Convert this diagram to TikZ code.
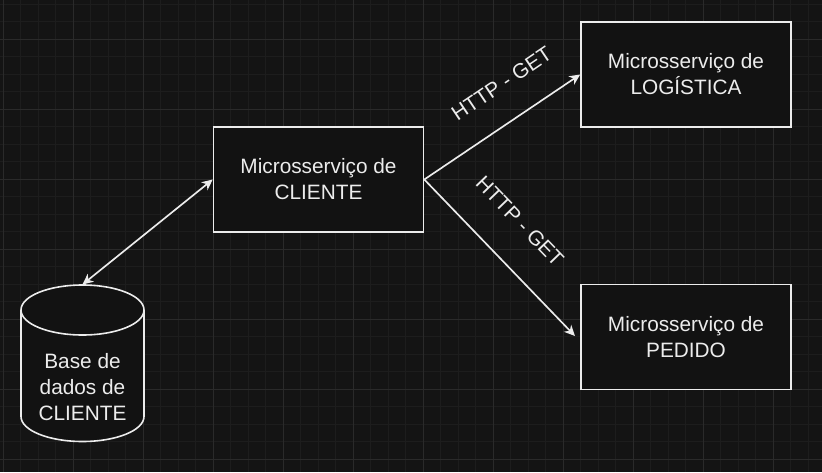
\documentclass[tikz,border=0pt]{standalone}
\usepackage{fontspec}
\setmainfont{Liberation Sans}
\usetikzlibrary{arrows.meta}
\definecolor{bg}{HTML}{141414}
\definecolor{boxfill}{HTML}{121212}
\definecolor{gridminor}{HTML}{1D1D1D}
\definecolor{gridmajor}{HTML}{2A2A2A}
\definecolor{ink}{HTML}{ECECEC}
\tikzset{
  box/.style={draw=ink, fill=boxfill, line width=1.2pt, minimum width=157.5pt, minimum height=78.75pt, inner sep=0pt, align=center, text=ink, font=\fontsize{15.6pt}{19.5pt}\selectfont},
  lbl/.style={text=ink, font=\fontsize{15.6pt}{19.5pt}\selectfont, inner sep=0pt},
  tip/.style={Stealth[length=8pt,width=7.5pt,inset=2.4pt]},
  conn/.style={draw=ink, line width=1.25pt, -{Stealth[length=8pt,width=7.5pt,inset=2.4pt]}},
}
\begin{document}
\begin{tikzpicture}[x=0.75pt,y=-0.75pt]
\fill[bg] (0,0) rectangle (822,472);
\useasboundingbox (0,0) rectangle (822,472);
% grid
\foreach \i in {0,...,47} {
  \draw[gridminor, line width=0.6pt] ({3.3+17.5*\i},0) -- ({3.3+17.5*\i},472);
}
\foreach \j in {0,...,27} {
  \draw[gridminor, line width=0.6pt] (0,{4.3+17.5*\j}) -- (822,{4.3+17.5*\j});
}
\foreach \i in {0,...,11} {
  \draw[gridmajor, line width=0.8pt] ({3.3+70*\i},0) -- ({3.3+70*\i},472);
}
\foreach \j in {0,...,6} {
  \draw[gridmajor, line width=0.8pt] (0,{39.3+70*\j}) -- (822,{39.3+70*\j});
}
% boxes
\node[box] (cli) at (318.5,179.5) {\raisebox{-1.2pt}{\parbox{150pt}{\centering Microsserviço de\\CLIENTE}}};
\node[box] (log) at (686,74.5) {\raisebox{-1.2pt}{\parbox{150pt}{\centering Microsserviço de\\LOGÍSTICA}}};
\node[box] (ped) at (686,337) {\raisebox{-1.2pt}{\parbox{150pt}{\centering Microsserviço de\\PEDIDO}}};
% cylinder
\node[minimum width=92.25pt, minimum height=117.75pt, inner sep=0pt] (db) at (82.5,363.25) {};
\filldraw[draw=ink, fill=boxfill, line width=1.2pt] (21,310) -- (21,416.5) arc[start angle=180, end angle=360, x radius=46.125pt, y radius=18.75pt] -- (144,310);
\filldraw[draw=ink, fill=boxfill, line width=1.2pt] (82.5,310) ellipse [x radius=46.125pt, y radius=18.75pt];
\node[lbl, align=center] (dbtext) at (82.5,387.5) {Base de\\dados de\\CLIENTE};
% connectors
\coordinate (pedtip) at (575,336);
\draw[conn, {Stealth[length=8pt,width=7.5pt,inset=2.4pt]}-{Stealth[length=8pt,width=7.5pt,inset=2.4pt]}] (db.north) -- (cli.west);
\draw[conn] (cli.east) -- (log.west);
\draw[conn] (cli.east) -- (pedtip);
% labels
\node[lbl, rotate=34] (l1) at (501.5,83.5) {HTTP - GET};
\node[lbl, rotate=-46] (l2) at (520,221.5) {HTTP - GET};
\end{tikzpicture}
\end{document}
